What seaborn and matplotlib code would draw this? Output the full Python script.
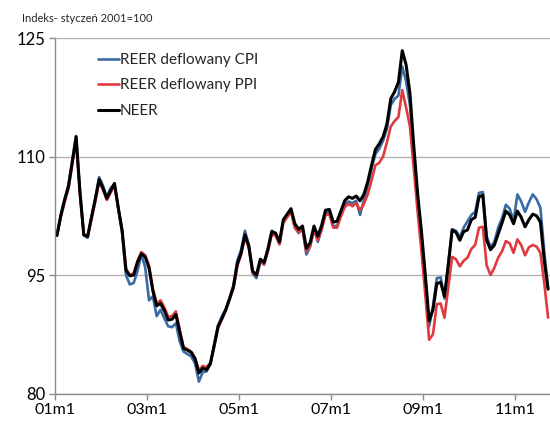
from __future__ import annotations

import matplotlib

matplotlib.use("Agg")
import matplotlib.pyplot as plt
import numpy as np
import pandas as pd
import seaborn as sns

# Miesięczne indeksy, 2001m1 - 2011m9 (styczeń 2001 = 100)
neer = [
    100.0, 102.5, 104.5, 106.2, 109.3, 112.5, 105.5, 100.1, 99.9, 102.3, 104.6, 107.1,
    106.0, 104.7, 105.7, 106.6, 103.5, 100.6, 95.6, 94.9, 95.0, 96.6, 97.7, 97.3,
    95.9, 93.0, 91.1, 91.4, 90.5, 89.3, 89.4, 90.0, 87.8, 85.7, 85.5, 85.2,
    84.4, 82.6, 83.2, 83.0, 83.8, 86.1, 88.5, 89.5, 90.6, 92.0, 93.5, 96.4,
    97.8, 100.1, 98.7, 95.5, 95.0, 97.0, 96.6, 98.3, 100.5, 100.3, 99.2, 102.0,
    102.7, 103.4, 101.5, 100.8, 101.2, 98.4, 99.1, 101.2, 99.9, 101.3, 103.2, 103.3,
    101.7, 101.8, 103.1, 104.4, 104.9, 104.7, 105.0, 104.4, 105.2, 106.8, 108.9, 110.9,
    111.6, 112.5, 114.1, 117.3, 118.2, 119.4, 123.4, 121.6, 118.0, 111.3, 105.3, 100.5,
    95.0, 89.2, 90.6, 93.9, 94.1, 92.3, 96.3, 100.7, 100.4, 99.4, 100.5, 100.7,
    102.0, 102.3, 104.9, 105.1, 99.4, 98.2, 98.8, 100.2, 101.6, 103.1, 102.6, 101.5,
    103.1, 102.3, 101.1, 102.0, 102.7, 102.5, 101.7, 96.9, 93.2,
]
reer_cpi = [
    100.0, 102.6, 104.6, 106.4, 109.5, 112.6, 105.6, 100.0, 99.7, 102.3, 104.7, 107.4,
    106.3, 104.9, 106.0, 106.5, 103.4, 100.3, 95.0, 93.8, 94.0, 95.5, 97.6, 96.0,
    91.8, 92.3, 89.8, 90.6, 89.5, 88.5, 88.4, 88.9, 86.6, 85.3, 85.0, 84.7,
    83.8, 81.5, 82.7, 82.8, 83.7, 86.3, 88.6, 89.8, 90.7, 92.1, 93.7, 96.8,
    98.2, 100.6, 98.8, 95.2, 94.6, 96.7, 96.3, 98.4, 100.6, 100.2, 98.9, 101.9,
    102.5, 103.2, 101.0, 100.3, 100.9, 97.6, 98.6, 100.9, 99.2, 100.8, 102.8, 103.0,
    101.2, 101.2, 102.6, 103.9, 104.3, 104.1, 104.4, 102.6, 104.5, 106.3, 108.5, 110.3,
    111.0, 112.0, 113.5, 116.5, 117.3, 117.7, 121.4, 119.5, 116.5, 110.5, 104.8, 100.0,
    94.6, 88.5, 91.0, 94.6, 94.7, 92.0, 96.5, 100.8, 100.6, 99.8, 101.0, 101.8,
    102.6, 103.0, 105.4, 105.5, 99.9, 98.5, 99.2, 101.0, 102.2, 103.9, 103.4, 101.8,
    105.2, 104.3, 103.0, 104.2, 105.2, 104.6, 103.5, 98.0, 93.3,
]
reer_ppi = [
    100.0, 102.3, 104.2, 105.9, 109.0, 112.0, 105.3, 100.1, 99.9, 102.0, 104.3, 106.8,
    105.8, 104.5, 105.4, 106.4, 103.4, 100.6, 95.8, 95.0, 95.2, 96.8, 97.9, 97.5,
    96.2, 93.3, 91.4, 91.8, 90.9, 89.7, 89.8, 90.4, 88.1, 85.9, 85.6, 85.3,
    84.5, 82.9, 83.5, 83.3, 83.9, 86.0, 88.3, 89.4, 90.5, 91.9, 93.3, 96.1,
    97.6, 99.8, 98.4, 95.3, 94.9, 96.7, 96.4, 98.0, 100.1, 100.0, 98.9, 101.6,
    102.3, 103.0, 101.0, 100.4, 100.8, 98.0, 98.7, 100.7, 99.4, 100.8, 102.6, 102.7,
    101.0, 101.0, 102.4, 103.6, 104.0, 103.7, 104.1, 103.2, 104.0, 105.2, 107.0, 108.9,
    109.2, 110.0, 111.8, 113.8, 114.5, 115.0, 118.4, 116.2, 113.8, 108.5, 103.0, 98.0,
    92.5, 86.8, 87.5, 91.3, 91.4, 89.6, 93.5, 97.3, 97.0, 96.1, 96.8, 97.2,
    98.3, 98.8, 101.0, 101.1, 96.2, 95.0, 95.9, 97.2, 98.0, 99.3, 99.0, 97.8,
    99.5, 98.8, 97.5, 98.5, 98.8, 98.6, 97.8, 94.0, 89.6,
]
tick_labels = ["01m1", "03m1", "05m1", "07m1", "09m1", "11m1"]
y_ticks = [80, 95, 110, 125]

labels = ["REER deflowany CPI", "REER deflowany PPI", "NEER"]
colors = ["#3a6aa3", "#e03a3e", "#000000"]


def main() -> None:
    sns.set_theme(style="white")
    plt.rcParams["font.family"] = ["Lato", "DejaVu Sans"]

    months = np.arange(len(neer))
    df = pd.DataFrame({"m": months, labels[0]: reer_cpi, labels[1]: reer_ppi, labels[2]: neer})

    fig = plt.figure(figsize=(5.5, 4.21), dpi=100)
    ax = fig.add_axes([0.1, 0.0653, 0.9, 0.8444])

    for name, col, lw in zip(labels, colors, [1.9, 1.9, 2.2]):
        sns.lineplot(data=df, x="m", y=name, color=col, lw=lw, label=name, ax=ax)

    ax.set_xlim(-0.5, len(neer) - 0.5)
    ax.set_ylim(80, 125)
    ax.set_yticks(y_ticks)
    ax.set_xticks([-0.5 + 24 * k for k in range(len(tick_labels))])
    ax.set_xticklabels(tick_labels)
    ax.set_xlabel("")
    ax.set_ylabel("")
    ax.yaxis.grid(True, color="#b3b3b3", lw=1.0)
    ax.set_axisbelow(True)
    for side in ["top", "right"]:
        ax.spines[side].set_visible(False)
    for side in ["left", "bottom"]:
        ax.spines[side].set_color("#8c8c8c")
        ax.spines[side].set_linewidth(1.0)
    ax.tick_params(axis="both", length=4, width=1.0, color="#8c8c8c", labelsize=12,
                   labelcolor="#000000", direction="out", bottom=True, left=True)
    ax.tick_params(axis="x", pad=2.5, labelsize=11.5)
    ax.tick_params(axis="y", pad=3)

    ax.legend(loc="upper left", bbox_to_anchor=(0.075, 0.975), frameon=False, fontsize=11,
              handlelength=1.35, handletextpad=0.05, labelspacing=0.75, borderaxespad=0)

    fig.text(0.04, 0.957, "Indeks- styczeń 2001=100", fontsize=8, va="center", ha="left")

    fig.savefig("out.png", dpi=100)
    plt.close(fig)


if __name__ == "__main__":
    main()
